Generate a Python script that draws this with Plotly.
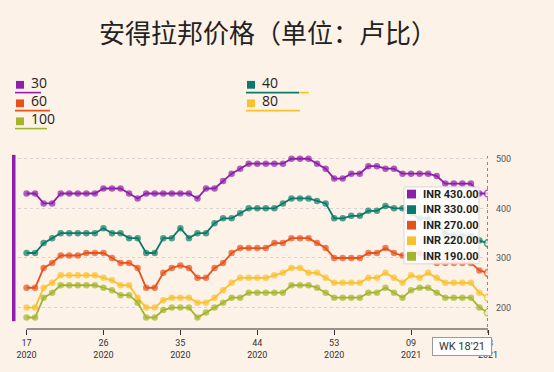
import plotly.graph_objects as go

# ---------------- data ----------------
categories = [f"{w:02d}'20" for w in range(17, 54)] + [f"{w:02d}'21" for w in range(1, 19)]
tick_cats = ["17'20", "26'20", "35'20", "44'20", "53'20", "09'21", "18'21"]
tick_text = ["17<br>2020", "26<br>2020", "35<br>2020", "44<br>2020", "53<br>2020", "09<br>2021", "18<br>2021"]
y_ticks = [200, 300, 400, 500]

series_names = ["30", "40", "60", "80", "100"]
s30 = [430, 430, 410, 410, 430, 430, 430, 430, 430, 440, 440, 440, 430, 420,
       430, 430, 430, 430, 430, 430, 420, 440, 440, 455, 470, 480, 490, 490,
       490, 490, 490, 500, 500, 500, 490, 480, 460, 460, 470, 470, 485, 485,
       480, 480, 470, 470, 470, 470, 465, 450, 450, 450, 450, 430, 430]
s40 = [310, 310, 330, 340, 350, 350, 350, 350, 350, 360, 350, 350, 340, 340,
       310, 310, 340, 340, 360, 340, 350, 350, 370, 380, 380, 390, 400, 400,
       400, 400, 410, 420, 420, 420, 415, 410, 380, 380, 385, 385, 395, 395,
       405, 400, 400, 390, 380, 380, 370, 350, 345, 345, 345, 335, 330]
s60 = [240, 240, 280, 290, 305, 305, 305, 310, 310, 310, 300, 290, 290, 280,
       240, 240, 270, 280, 285, 280, 260, 260, 280, 290, 310, 320, 320, 320,
       320, 330, 330, 340, 340, 340, 330, 320, 300, 300, 300, 300, 310, 310,
       320, 310, 305, 310, 310, 300, 290, 290, 290, 290, 290, 275, 270]
s80 = [200, 200, 240, 250, 265, 265, 265, 265, 265, 260, 255, 245, 245, 220,
       200, 200, 215, 220, 220, 220, 210, 210, 220, 235, 250, 260, 260, 260,
       260, 265, 270, 280, 280, 270, 270, 260, 250, 250, 250, 250, 260, 260,
       270, 260, 250, 265, 260, 270, 260, 250, 250, 250, 250, 230, 220]
s100 = [180, 180, 220, 230, 245, 245, 245, 245, 245, 240, 235, 225, 225, 210,
        180, 180, 195, 200, 200, 200, 180, 190, 200, 210, 220, 220, 230, 230,
        230, 230, 230, 245, 245, 245, 240, 230, 220, 220, 220, 220, 230, 230,
        240, 230, 220, 235, 240, 240, 230, 220, 220, 220, 220, 200, 190]
series_values = [s30, s40, s60, s80, s100]
colors = ["#8e1fab", "#0c7a68", "#e6521c", "#f8c12e", "#a4b52b"]

# ---------------- helpers (pixel -> paper) ----------------
W, H = 554, 372
ML, MR, MT, MB = 18, 66, 150, 38
PW, PH = W - ML - MR, H - MT - MB


def PX(x):
    return (x - ML) / PW


def PY(y):
    return (H - MB - y) / PH


BG = "#fdf2e8"
n = len(categories)

fig = go.Figure()
for name, vals, col in zip(series_names, series_values, colors):
    fill = [col] * (n - 1) + ["white"]
    lw = [0] * (n - 1) + [1.6]
    sz = [6.5] * (n - 1) + [7]
    fig.add_trace(go.Scatter(
        x=categories, y=vals, mode="lines+markers", name=name,
        line=dict(color=col, width=1.8),
        marker=dict(color=fill, size=sz, line=dict(color=col, width=lw)),
        showlegend=False, hoverinfo="skip"))

shapes = []
annotations = []

# left purple bar
shapes.append(dict(type="rect", xref="paper", yref="paper", x0=PX(12), x1=PX(15.5),
                   y0=PY(326), y1=PY(155), fillcolor="#8e1fab", line=dict(width=0)))
# x axis line
shapes.append(dict(type="line", xref="x", yref="paper", x0=categories[0], x1=categories[-1],
                   y0=0, y1=0, line=dict(color="#333333", width=1)))
# hover spike line
shapes.append(dict(type="line", xref="x", yref="paper", x0=categories[-1], x1=categories[-1],
                   y0=PY(338), y1=PY(155), layer="below",
                   line=dict(color="#888888", width=2, dash="dot")))

# title
annotations.append(dict(text="安得拉邦价格（单位：卢比）", xref="paper", yref="paper",
                        x=PX(268), y=PY(28), showarrow=False, xanchor="center", yanchor="middle",
                        font=dict(family="Noto Sans CJK SC", size=26, color="#222222")))

# legend
leg_pos = {"30": (16, 83, 15, 41, 91), "60": (16, 102, 15, 50, 109.5), "100": (16, 120.5, 15, 47, 128),
           "40": (247, 83, 246, 299, 91), "80": (247, 102, 246, 300, 109.5)}
for name, col in zip(series_names, colors):
    sx, cy, ux0, ux1, uy = leg_pos[name]
    shapes.append(dict(type="rect", xref="paper", yref="paper", x0=PX(sx), x1=PX(sx + 8),
                       y0=PY(cy + 4), y1=PY(cy - 4), fillcolor=col, line=dict(width=0)))
    annotations.append(dict(text=name, xref="paper", yref="paper", x=PX(sx + 13), y=PY(cy - 2.5),
                            showarrow=False, xanchor="left", yanchor="middle",
                            font=dict(family="Open Sans", size=14, color="#222222")))
    shapes.append(dict(type="line", xref="paper", yref="paper", x0=PX(ux0), x1=PX(ux1),
                       y0=PY(uy), y1=PY(uy), line=dict(color=col, width=1.6)))
# small yellow tail on the "40" underline
shapes.append(dict(type="line", xref="paper", yref="paper", x0=PX(299), x1=PX(309),
                   y0=PY(91), y1=PY(91), line=dict(color=colors[3], width=1.6)))

# tooltip
shapes.append(dict(type="rect", xref="paper", yref="paper", x0=PX(404), x1=PX(479),
                   y0=PY(267), y1=PY(188), fillcolor="rgba(255,255,255,0.86)",
                   line=dict(color="#d8d8d8", width=1)))
for k, (vals, col) in enumerate(zip(series_values, colors)):
    cy = 195.3 + 16 * k
    shapes.append(dict(type="rect", xref="paper", yref="paper", x0=PX(407), x1=PX(416),
                       y0=PY(cy + 4.5), y1=PY(cy - 4.5), fillcolor=col, line=dict(width=0)))
    annotations.append(dict(text=f"<b>INR {vals[-1]:.2f}</b>", xref="paper", yref="paper",
                            x=PX(420.5), y=PY(cy), showarrow=False, xanchor="left", yanchor="middle",
                            font=dict(family="Roboto", size=11, color="#1e1e1e")))

# week box
annotations.append(dict(text="WK 18'21", xref="paper", yref="paper", x=PX(462), y=PY(352),
                        showarrow=False, xanchor="center", yanchor="middle",
                        bgcolor="white", bordercolor="#9a9a9a", borderwidth=1, borderpad=2,
                        width=54, height=13,
                        font=dict(family="Roboto", size=11, color="#333333")))

fig.update_layout(
    width=W, height=H, margin=dict(l=ML, r=MR, t=MT, b=MB),
    paper_bgcolor=BG, plot_bgcolor=BG,
    shapes=shapes, annotations=annotations, showlegend=False,
    xaxis=dict(type="category", categoryorder="array", categoryarray=categories,
               range=[-1, n - 1], tickvals=tick_cats, ticktext=tick_text,
               ticks="outside", ticklen=5, tickcolor="#333333", showgrid=False,
               showline=False, zeroline=False,
               tickfont=dict(family="Roboto", size=9, color="#333333")),
    yaxis=dict(side="right", range=[156.86, 517.65], tickvals=y_ticks,
               showgrid=True, gridcolor="#d9d4cf", griddash="dot", gridwidth=1,
               zeroline=False, showline=False, ticks="", ticklabelstandoff=7,
               tickfont=dict(family="Roboto", size=9, color="#555555")),
)

fig.write_html(
    "out.html",
    config={"displayModeBar": False},
    post_script="document.body.style.margin='0';document.body.style.background='" + BG + "';",
)
